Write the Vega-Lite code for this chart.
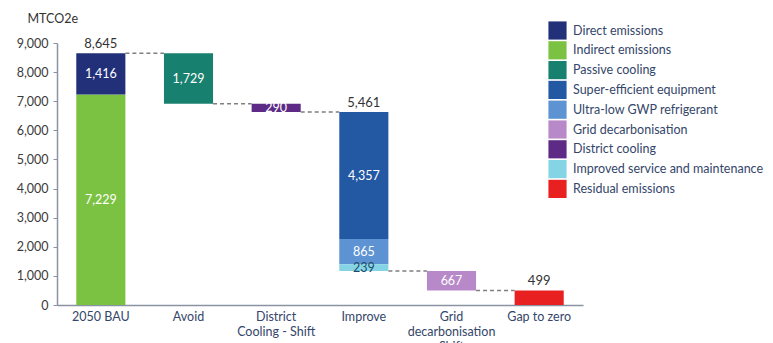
{
  "$schema": "https://vega.github.io/schema/vega-lite/v6.json",
  "autosize": {"type": "none"},
  "padding": {"left": 57, "top": 43, "right": 190, "bottom": 38},
  "width": 526,
  "height": 262,
  "background": "white",
  "config": {
    "font": "Lato",
    "view": {"stroke": null},
    "axisX": {
      "labelFont": "Lato",
      "labelAngle": 0,
      "labelFontSize": 12.5,
      "labelColor": "#34466a",
      "labelPadding": 5,
      "labelLineHeight": 15,
      "ticks": false,
      "domainColor": "#8a93a3",
      "domainWidth": 1.5
    },
    "axisY": {
      "labelFont": "Lato",
      "titleFont": "Lato",
      "grid": false,
      "labelFontSize": 12.5,
      "labelColor": "#3a3a3a",
      "labelPadding": 5,
      "labelOverlap": false,
      "tickSize": 4,
      "tickColor": "#8a93a3",
      "domainColor": "#8a93a3",
      "domainWidth": 1.5,
      "titleFontSize": 12.5,
      "titleFontWeight": "normal",
      "titleColor": "#333333"
    },
    "legend": {"labelFont": "Lato"}
  },
  "datasets": {
    "bars": [
      {"category": "2050 BAU", "series": "Indirect emissions", "y0": 0, "y1": 7229, "label": "7,229"},
      {"category": "2050 BAU", "series": "Direct emissions", "y0": 7229, "y1": 8645, "label": "1,416"},
      {"category": "Avoid", "series": "Passive cooling", "y0": 6916, "y1": 8645, "label": "1,729"},
      {"category": "District Cooling - Shift", "series": "District cooling", "y0": 6626, "y1": 6916, "label": "290"},
      {"category": "Improve", "series": "Super-efficient equipment", "y0": 2269, "y1": 6626, "label": "4,357"},
      {"category": "Improve", "series": "Ultra-low GWP refrigerant", "y0": 1404, "y1": 2269, "label": "865"},
      {"category": "Improve", "series": "Improved service and maintenance", "y0": 1165, "y1": 1404, "label": "239"},
      {"category": "Grid decarbonisation Shift", "series": "Grid decarbonisation", "y0": 499, "y1": 1165, "label": "667"},
      {"category": "Gap to zero", "series": "Residual emissions", "y0": 0, "y1": 499, "label": ""}
    ],
    "connectors": [
      {"from": "2050 BAU", "to": "Avoid", "level": 8645},
      {"from": "Avoid", "to": "District Cooling - Shift", "level": 6916},
      {"from": "District Cooling - Shift", "to": "Improve", "level": 6626},
      {"from": "Improve", "to": "Grid decarbonisation Shift", "level": 1165},
      {"from": "Grid decarbonisation Shift", "to": "Gap to zero", "level": 499}
    ],
    "totals": [
      {"category": "2050 BAU", "value": 8645, "label": "8,645"},
      {"category": "Improve", "value": 6626, "label": "5,461"},
      {"category": "Gap to zero", "value": 499, "label": "499"}
    ]
  },
  "layer": [
    {
      "data": {"name": "bars"},
      "mark": {"type": "bar"},
      "encoding": {
        "x": {
          "field": "category",
          "type": "nominal",
          "sort": null,
          "scale": {
            "domain": ["2050 BAU", "Avoid", "District Cooling - Shift", "Improve", "Grid decarbonisation Shift", "Gap to zero"],
            "paddingInner": 0.44,
            "paddingOuter": 0.22
          },
          "axis": {
            "title": null,
            "labelExpr": "datum.value === 'District Cooling - Shift' ? ['District', 'Cooling - Shift'] : datum.value === 'Grid decarbonisation Shift' ? ['Grid', 'decarbonisation', 'Shift'] : datum.value"
          }
        },
        "y": {
          "field": "y0",
          "type": "quantitative",
          "scale": {"domain": [0, 9000], "nice": false},
          "axis": {
            "title": "MTCO2e",
            "titleAngle": 0,
            "titleAlign": "left",
            "titleBaseline": "middle",
            "titleX": -30,
            "titleY": -25,
            "values": [0, 1000, 2000, 3000, 4000, 5000, 6000, 7000, 8000, 9000],
            "format": ",d"
          }
        },
        "y2": {"field": "y1"},
        "color": {
          "field": "series",
          "type": "nominal",
          "scale": {
            "domain": ["Direct emissions", "Indirect emissions", "Passive cooling", "Super-efficient equipment", "Ultra-low GWP refrigerant", "Grid decarbonisation", "District cooling", "Improved service and maintenance", "Residual emissions"],
            "range": ["#22307a", "#7cc242", "#18806e", "#2358a3", "#5e93d3", "#b889c9", "#5d2a85", "#84d4e6", "#e8201f"]
          },
          "legend": {
            "title": null,
            "orient": "none",
            "legendX": 491,
            "legendY": -22,
            "symbolType": "square",
            "symbolSize": 330,
            "symbolStrokeWidth": 0,
            "symbolOpacity": 1,
            "labelFontSize": 12.5,
            "labelColor": "#34466a",
            "labelOffset": 6,
            "rowPadding": 0.8,
            "labelLimit": 260
          }
        }
      }
    },
    {
      "data": {"name": "connectors"},
      "mark": {"type": "rule", "stroke": "#7f7f7f", "strokeWidth": 1.5, "strokeDash": [4, 3]},
      "encoding": {
        "x": {
          "field": "from",
          "type": "nominal",
          "bandPosition": 1,
          "axis": {
            "title": null,
            "labelExpr": "datum.value === 'District Cooling - Shift' ? ['District', 'Cooling - Shift'] : datum.value === 'Grid decarbonisation Shift' ? ['Grid', 'decarbonisation', 'Shift'] : datum.value"
          }
        },
        "x2": {"field": "to", "bandPosition": 0},
        "y": {
          "field": "level",
          "type": "quantitative",
          "axis": {
            "title": "MTCO2e",
            "titleAngle": 0,
            "titleAlign": "left",
            "titleBaseline": "middle",
            "titleX": -30,
            "titleY": -25,
            "values": [0, 1000, 2000, 3000, 4000, 5000, 6000, 7000, 8000, 9000],
            "format": ",d"
          }
        }
      }
    },
    {
      "data": {"name": "bars"},
      "transform": [
        {"filter": "datum.label !== ''"},
        {"fold": ["y0", "y1"], "as": ["k", "v"]}
      ],
      "mark": {"type": "text", "fontSize": 12.5, "baseline": "middle", "align": "center"},
      "encoding": {
        "x": {
          "field": "category",
          "type": "nominal",
          "sort": null,
          "axis": {
            "title": null,
            "labelExpr": "datum.value === 'District Cooling - Shift' ? ['District', 'Cooling - Shift'] : datum.value === 'Grid decarbonisation Shift' ? ['Grid', 'decarbonisation', 'Shift'] : datum.value"
          }
        },
        "y": {
          "aggregate": "mean",
          "field": "v",
          "type": "quantitative",
          "axis": {
            "title": "MTCO2e",
            "titleAngle": 0,
            "titleAlign": "left",
            "titleBaseline": "middle",
            "titleX": -30,
            "titleY": -25,
            "values": [0, 1000, 2000, 3000, 4000, 5000, 6000, 7000, 8000, 9000],
            "format": ",d"
          }
        },
        "text": {"field": "label"},
        "detail": {"field": "series"},
        "color": {
          "condition": {"test": "datum.series === 'Improved service and maintenance'", "value": "#1c4d66"},
          "value": "#ffffff"
        }
      }
    },
    {
      "data": {"name": "totals"},
      "mark": {"type": "text", "fontSize": 13, "baseline": "bottom", "dy": -2, "color": "#333333"},
      "encoding": {
        "x": {
          "field": "category",
          "type": "nominal",
          "sort": null,
          "axis": {
            "title": null,
            "labelExpr": "datum.value === 'District Cooling - Shift' ? ['District', 'Cooling - Shift'] : datum.value === 'Grid decarbonisation Shift' ? ['Grid', 'decarbonisation', 'Shift'] : datum.value"
          }
        },
        "y": {
          "field": "value",
          "type": "quantitative",
          "axis": {
            "title": "MTCO2e",
            "titleAngle": 0,
            "titleAlign": "left",
            "titleBaseline": "middle",
            "titleX": -30,
            "titleY": -25,
            "values": [0, 1000, 2000, 3000, 4000, 5000, 6000, 7000, 8000, 9000],
            "format": ",d"
          }
        },
        "text": {"field": "label"}
      }
    }
  ]
}
